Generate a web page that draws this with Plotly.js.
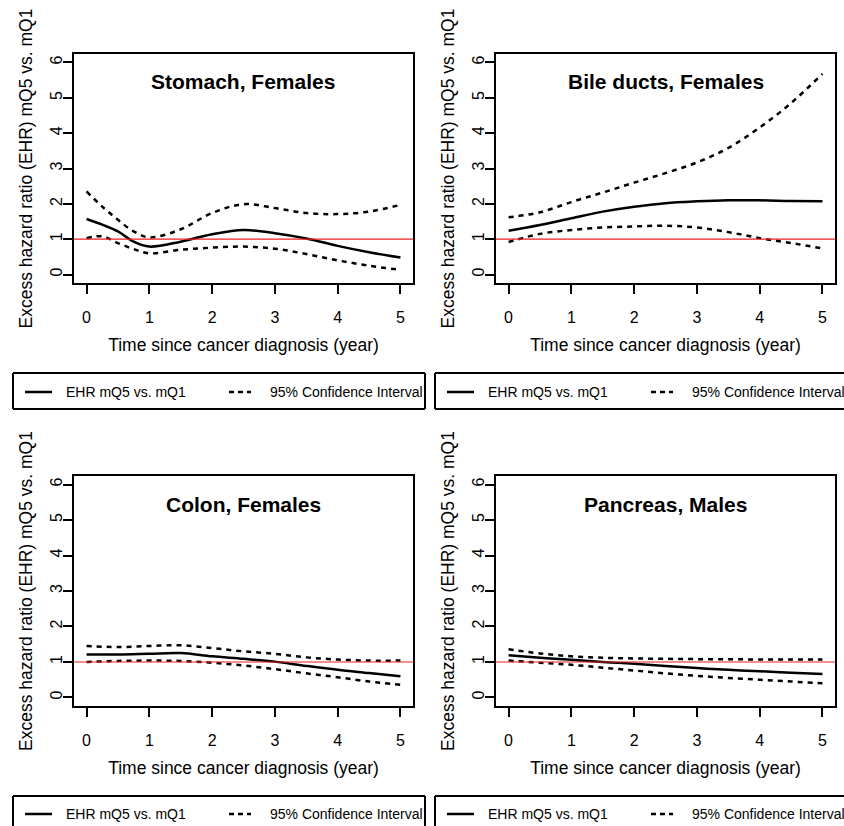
<!DOCTYPE html>
<html>
<head>
<meta charset="utf-8">
<script src="https://cdn.plot.ly/plotly-3.0.1.min.js"></script>
<style>
html,body{margin:0;padding:0;background:#fff;}
#chart{width:844px;height:826px;}
</style>
</head>
<body>
<div id="chart"></div>
<script>
// ---- Data ----
var years = [0, 0.5, 1, 1.5, 2, 2.5, 3, 3.5, 4, 4.5, 5];
var stomachYears = [0, 0.25, 0.5, 0.75, 1, 1.5, 2, 2.5, 3, 3.5, 4, 4.5, 5];

var panelTitles = ["Stomach, Females", "Bile ducts, Females", "Colon, Females", "Pancreas, Males"];

var stomachEHR   = [1.57, 1.41, 1.22, 0.93, 0.79, 0.93, 1.14, 1.26, 1.17, 1.02, 0.81, 0.63, 0.48];
var stomachUpper = [2.35, 1.92, 1.55, 1.22, 1.05, 1.28, 1.74, 1.99, 1.88, 1.74, 1.71, 1.78, 1.97];
var stomachLower = [1.03, 1.08, 0.89, 0.72, 0.60, 0.70, 0.76, 0.79, 0.73, 0.58, 0.40, 0.25, 0.13];

var bileEHR   = [1.24, 1.40, 1.59, 1.78, 1.92, 2.02, 2.07, 2.10, 2.10, 2.08, 2.07];
var bileUpper = [1.62, 1.76, 2.05, 2.32, 2.60, 2.87, 3.17, 3.58, 4.16, 4.85, 5.68];
var bileLower = [0.92, 1.15, 1.26, 1.33, 1.36, 1.38, 1.33, 1.20, 1.03, 0.89, 0.74];

var colonEHR   = [1.21, 1.21, 1.23, 1.25, 1.16, 1.09, 1.01, 0.89, 0.78, 0.69, 0.60];
var colonUpper = [1.45, 1.42, 1.45, 1.47, 1.39, 1.30, 1.23, 1.13, 1.07, 1.04, 1.04];
var colonLower = [1.00, 1.03, 1.04, 1.03, 0.98, 0.90, 0.80, 0.68, 0.57, 0.45, 0.36];

var pancreasEHR   = [1.19, 1.12, 1.06, 1.00, 0.95, 0.89, 0.83, 0.78, 0.74, 0.70, 0.66];
var pancreasUpper = [1.36, 1.24, 1.16, 1.12, 1.10, 1.09, 1.08, 1.08, 1.07, 1.07, 1.07];
var pancreasLower = [1.04, 0.98, 0.92, 0.84, 0.76, 0.68, 0.61, 0.55, 0.50, 0.45, 0.40];

var xTicks = [0, 1, 2, 3, 4, 5];
var yTicks = [0, 1, 2, 3, 4, 5, 6];
var refLine = 1;

var legendLabels = ["EHR mQ5 vs. mQ1", "95% Confidence Interval"];
var xTitle = "Time since cancer diagnosis (year)";
var yTitle = "Excess hazard ratio (EHR) mQ5 vs. mQ1";

// ---- Build figure ----
var W = 844, H = 826;
var FONT = "Liberation Sans, Arial, sans-serif";
var panels = [
  {x: stomachYears, ehr: stomachEHR, up: stomachUpper, lo: stomachLower},
  {x: years, ehr: bileEHR, up: bileUpper, lo: bileLower},
  {x: years, ehr: colonEHR, up: colonUpper, lo: colonLower},
  {x: years, ehr: pancreasEHR, up: pancreasUpper, lo: pancreasLower}
];

// pixel boxes of plot areas [left, right, top, bottom]
var boxes = [
  [74, 413, 54, 283],
  [496, 835, 54, 283],
  [74, 413, 476, 706],
  [496, 835, 476, 706]
];

var traces = [];
var layout = {
  width: W, height: H,
  margin: {l: 0, r: 0, t: 0, b: 0},
  paper_bgcolor: "#fff",
  plot_bgcolor: "#fff",
  showlegend: false,
  font: {family: FONT, color: "#000", size: 14},
  shapes: [],
  annotations: []
};

function px(v) { return v / W; }
function py(v) { return 1 - v / H; }
function seg(x0, y0, x1, y1, w, dash) {
  var ln = {color: "#000", width: w};
  if (dash) ln.dash = dash;
  layout.shapes.push({type: "line", xref: "paper", yref: "paper",
    x0: px(x0), x1: px(x1), y0: py(y0), y1: py(y1), line: ln});
}

panels.forEach(function (p, i) {
  var n = i + 1;
  var xa = "x" + (n === 1 ? "" : n), ya = "y" + (n === 1 ? "" : n);
  var xk = "xaxis" + (n === 1 ? "" : n), yk = "yaxis" + (n === 1 ? "" : n);
  var b = boxes[i];
  var lineStyle = {shape: "spline", smoothing: 1, color: "#000", width: 2.5};
  traces.push({x: p.x, y: p.up, xaxis: xa, yaxis: ya, mode: "lines", hoverinfo: "skip",
    line: Object.assign({}, lineStyle, {dash: "5px,5px"})});
  traces.push({x: p.x, y: p.lo, xaxis: xa, yaxis: ya, mode: "lines", hoverinfo: "skip",
    line: Object.assign({}, lineStyle, {dash: "5px,5px"})});
  traces.push({x: p.x, y: p.ehr, xaxis: xa, yaxis: ya, mode: "lines", hoverinfo: "skip",
    line: lineStyle});

  layout[xk] = {
    domain: [b[0] / W, b[1] / W], anchor: ya,
    range: [-0.2, 5.2], tickvals: xTicks,
    ticks: "outside", ticklen: 9, tickwidth: 2, tickcolor: "#000",
    showline: true, linewidth: 2, linecolor: "#000", mirror: true,
    showgrid: false, zeroline: false, ticklabelstandoff: 10,
    tickfont: {family: FONT, size: 16, color: "#000"},
    title: {text: xTitle, standoff: 14, font: {family: FONT, size: 17.5, color: "#000"}},
    fixedrange: true
  };
  layout[yk] = {
    domain: [1 - b[3] / H, 1 - b[2] / H], anchor: xa,
    range: [-0.24, 6.24], tickvals: yTicks,
    ticks: "outside", ticklen: 9, tickwidth: 2, tickcolor: "#000", tickangle: -90,
    showline: true, linewidth: 2, linecolor: "#000", mirror: true,
    showgrid: false, zeroline: false, ticklabelstandoff: -5,
    tickfont: {family: FONT, size: 16, color: "#000"},
    title: {text: yTitle, standoff: 10, font: {family: FONT, size: 17.5, color: "#000"}},
    fixedrange: true
  };

  // red reference line at EHR = 1
  layout.shapes.push({type: "line", xref: xa + " domain", x0: 0, x1: 1,
    yref: ya, y0: refLine, y1: refLine, line: {color: "#e8231f", width: 1.2}, layer: "above"});

  // panel title inside plot
  layout.annotations.push({text: "<b>" + panelTitles[i] + "</b>", xref: xa + " domain", yref: ya + " domain",
    x: 0.5, y: 0.878, xanchor: "center", yanchor: "middle", showarrow: false,
    font: {family: FONT, size: 21, color: "#000"}});

  // legend frame below each panel (edges that lie outside the page are cut off as in the reference)
  var left = (i % 2 === 0);
  var top = (i < 2);
  var lx = left ? 13 : 435;
  var lxr = left ? 425 : null;
  var ly0 = top ? 373 : 796;
  var ly1 = top ? 409 : null;
  var lyc = top ? 392 : 814;
  var rightEdge = lxr === null ? 844 : lxr;
  var bottomEdge = ly1 === null ? 826 : ly1;
  seg(lx, ly0, rightEdge, ly0, 2);
  seg(lx, ly0, lx, bottomEdge, 2);
  if (lxr !== null) seg(lxr, ly0, lxr, bottomEdge, 2);
  if (ly1 !== null) seg(lx, ly1, rightEdge, ly1, 2);
  // legend keys
  seg(lx + 12, lyc, lx + 39, lyc, 2.5);
  seg(lx + 216, lyc, lx + 238, lyc, 2.5, "5px,4px");
  layout.annotations.push({text: legendLabels[0], xref: "paper", yref: "paper",
    x: px(lx + 51), y: py(lyc), xanchor: "left", yanchor: "middle", showarrow: false,
    font: {family: FONT, size: 14, color: "#000"}});
  layout.annotations.push({text: legendLabels[1], xref: "paper", yref: "paper",
    x: px(lx + 255), y: py(lyc), xanchor: "left", yanchor: "middle", showarrow: false,
    font: {family: FONT, size: 14, color: "#000"}});
});

Plotly.newPlot("chart", traces, layout, {staticPlot: true, displayModeBar: false});
</script>
</body>
</html>
